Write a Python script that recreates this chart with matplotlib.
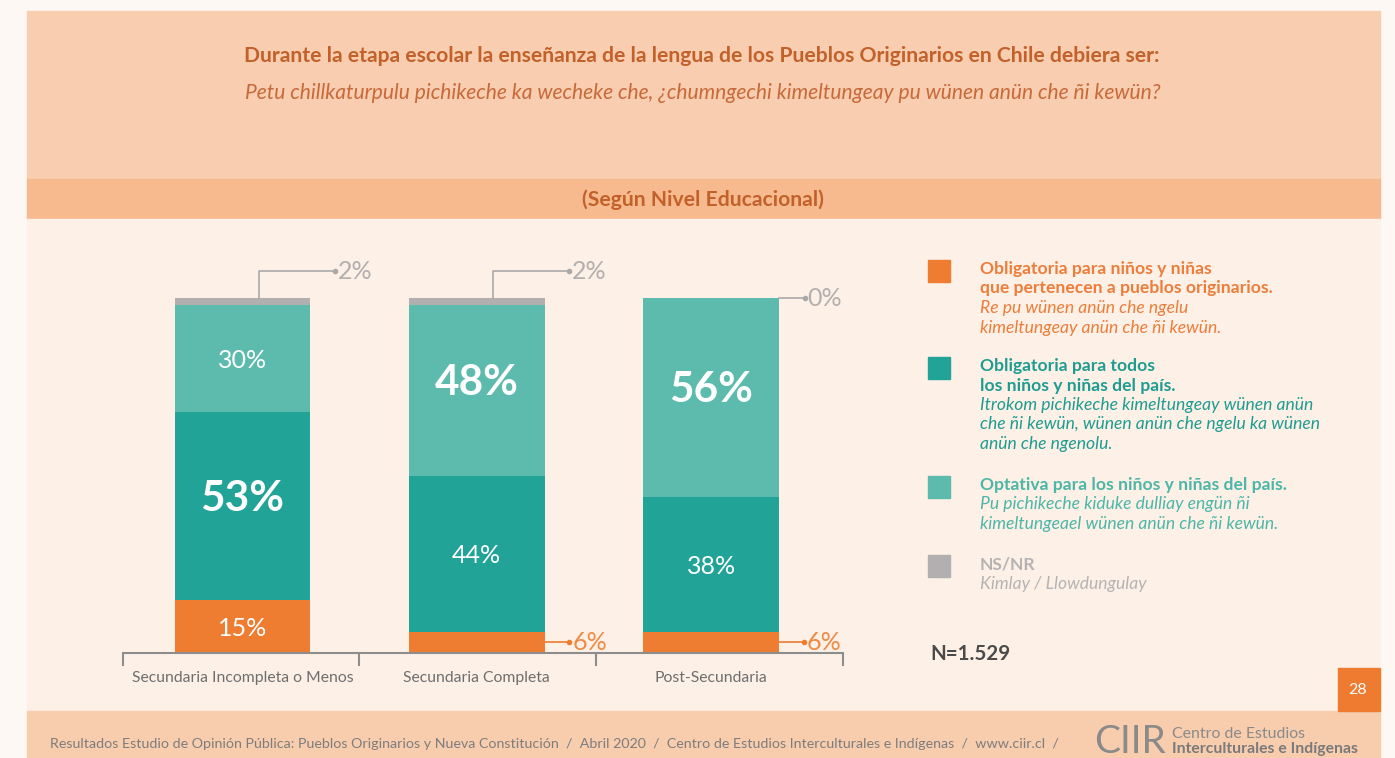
import numpy as np
import matplotlib.pyplot as plt
from matplotlib.patches import Rectangle

plt.rcParams['font.family'] = ['Lato', 'DejaVu Sans']

# data
categories = ["Secundaria Incompleta o Menos", "Secundaria Completa", "Post-Secundaria"]
obl_pueblos = [15, 6, 6]
obl_todos = [53, 44, 38]
optativa = [30, 48, 56]
nsnr = [2, 2, 0]

title = "Durante la etapa escolar la enseñanza de la lengua de los Pueblos Originarios en Chile debiera ser:"
subtitle = "Petu chillkaturpulu pichikeche ka wecheke che, ¿chumngechi kimeltungeay pu wünen anün che ñi kewün?"
band = "(Según Nivel Educacional)"
legend_items = [
    ("Obligatoria para niños y niñas\nque pertenecen a pueblos originarios.",
     "Re pu wünen anün che ngelu\nkimeltungeay anün che ñi kewün."),
    ("Obligatoria para todos\nlos niños y niñas del país.",
     "Itrokom pichikeche kimeltungeay wünen anün\nche ñi kewün, wünen anün che ngelu ka wünen\nanün che ngenolu."),
    ("Optativa para los niños y niñas del país.",
     "Pu pichikeche kiduke dulliay engün ñi\nkimeltungeael wünen anün che ñi kewün."),
    ("NS/NR", "Kimlay / Llowdungulay"),
]
footer = ("Resultados Estudio de Opinión Pública: Pueblos Originarios y Nueva Constitución  /  "
          "Abril 2020  /  Centro de Estudios Interculturales e Indígenas  /  www.ciir.cl  /")

c_orange = "#ee7d31"
c_dark = "#21a398"
c_light = "#5dbbad"
c_gray = "#b1afb0"
c_title = "#c2612a"
label_cols = ["#ec7d3a", "#1f9c90", "#4cb6a7", "#b5b3b3"]

W, H = 1395, 758
fig = plt.figure(figsize=(W / 100, H / 100), dpi=100)
fig.patch.set_facecolor("#fdf8f3")


def prect(x0, y0, x1, y1, color):
    # rectangle in pixel coords measured from the top
    fig.patches.append(Rectangle((x0 / W, 1 - y1 / H), (x1 - x0) / W, (y1 - y0) / H,
                                 transform=fig.transFigure, color=color, zorder=-1))


def ptext(x, y, s, **kw):
    fig.text(x / W, 1 - y / H, s, **kw)


prect(27, 11, 1380, 179, "#f8cdb0")
prect(27, 179, 1380, 219, "#f7ba8f")
prect(27, 219, 1380, 711, "#fdf0e6")
prect(27, 711, 1380, 758, "#f8cdae")
prect(1338, 668, 1380, 711, "#ee7b30")

ptext(702, 56, title, ha="center", va="center", fontsize=15.2, fontweight="bold", color=c_title)
ptext(703, 93, subtitle, ha="center", va="center", fontsize=15.1, style="italic", color="#c8693a")
ptext(703, 200, band, ha="center", va="center", fontsize=15.2, fontweight="bold", color=c_title)
ptext(1358, 690, "28", ha="center", va="center", fontsize=11.5, color="white")

# bars
ax = fig.add_axes([123 / W, (H - 653) / H, 720 / W, 355 / H])
ax.set_zorder(2)
ax.set_facecolor("none")
x = np.arange(len(categories))
bw = 0.58
series = [obl_pueblos, obl_todos, optativa, nsnr]
colors = [c_orange, c_dark, c_light, c_gray]
bottom = np.zeros(len(categories))
for vals, col in zip(series, colors):
    ax.bar(x, vals, bw, bottom=bottom, color=col, zorder=2)
    bottom += np.array(vals)

ax.set_xlim(-0.51, 2.563)
ax.set_ylim(0, 100)
for s in ["top", "left", "right"]:
    ax.spines[s].set_visible(False)
ax.spines["bottom"].set_color("#8d8d8d")
ax.spines["bottom"].set_linewidth(1.5)
ax.set_yticks([])
ax.set_xticks(x)
ax.set_xticklabels(categories, fontsize=11.3, color="#6e6e6e")
ax.tick_params(axis="x", length=0, pad=13)
ax.set_xticks([-0.51, 0.497, 1.509, 2.561], minor=True)
ax.tick_params(axis="x", which="minor", length=9, width=1.5, color="#8d8d8d")

# labels inside and outside bars
for i in range(len(categories)):
    base = 0
    segs = [obl_pueblos[i], obl_todos[i], optativa[i]]
    big = int(np.argmax(segs))
    for j, v in enumerate(segs):
        mid = base + v / 2
        if v >= 10:
            if j == big:
                ax.text(x[i], mid + 2.0, f"{v}%", ha="center", va="center", fontsize=30.5,
                        fontweight="bold", color="white", zorder=3)
            else:
                ax.text(x[i], mid - 0.5, f"{v}%", ha="center", va="center", fontsize=18,
                        color="white", zorder=3)
        else:
            ex = x[i] + 0.395
            ax.plot([x[i] + bw / 2, ex], [mid, mid], color=c_orange, lw=1.2, clip_on=False)
            ax.plot(ex, mid, "o", ms=3, color=c_orange, clip_on=False)
            ax.text(ex + 0.012, mid, f"{v}%", ha="left", va="center", fontsize=18,
                    color="#f08a45", clip_on=False)
        base += v
    g = nsnr[i]
    top = base + g
    if g > 0:
        yl = 107.6
        ex = x[i] + 0.395
        ax.plot([x[i] + 0.07, x[i] + 0.07, ex], [top, yl, yl], color="#a9a9a9", lw=1.2, clip_on=False)
        ax.plot(ex, yl, "o", ms=3, color="#a9a9a9", clip_on=False)
        ax.text(ex + 0.012, yl, f"{g}%", ha="left", va="center", fontsize=18,
                color="#b3afaf", clip_on=False)
    else:
        ex = x[i] + 0.40
        ax.plot([x[i] + bw / 2, ex], [top, top], color="#a9a9a9", lw=1.2, clip_on=False)
        ax.plot(ex, top, "o", ms=3, color="#a9a9a9", clip_on=False)
        ax.text(ex + 0.012, top, f"{g}%", ha="left", va="center", fontsize=18,
                color="#b3afaf", clip_on=False)

# legend
sq_y = [260, 357, 476, 555]
for (head, sub), col, lc, y0 in zip(legend_items, colors, label_cols, sq_y):
    prect(928, y0, 950, y0 + 22, col)
    n_head = head.count("\n") + 1
    for k, line in enumerate(head.split("\n")):
        ptext(980, y0 + 9 + k * 19.5, line, ha="left", va="center", fontsize=12.6,
              fontweight="bold", color=lc)
    for k, line in enumerate(sub.split("\n")):
        ptext(980, y0 + 9 + (n_head + k) * 19.5, line, ha="left", va="center", fontsize=12.6,
              style="italic", color=lc)

ptext(930, 654, "N=1.529", ha="left", va="center", fontsize=14.8, fontweight="bold", color="#4a4a4a")

# footer
ptext(50, 744, footer, ha="left", va="center", fontsize=10.3, color="#7d7d7d")
ptext(1094, 742, "CIIR", ha="left", va="center", fontsize=28, color="#8a8a8a")
ptext(1172, 734, "Centro de Estudios", ha="left", va="center", fontsize=11.4, color="#8a8a8a")
ptext(1172, 749, "Interculturales e Indígenas", ha="left", va="center", fontsize=11.3,
      fontweight="bold", color="#7a7a7a")

fig.savefig("out.png", dpi=100, facecolor=fig.get_facecolor())
